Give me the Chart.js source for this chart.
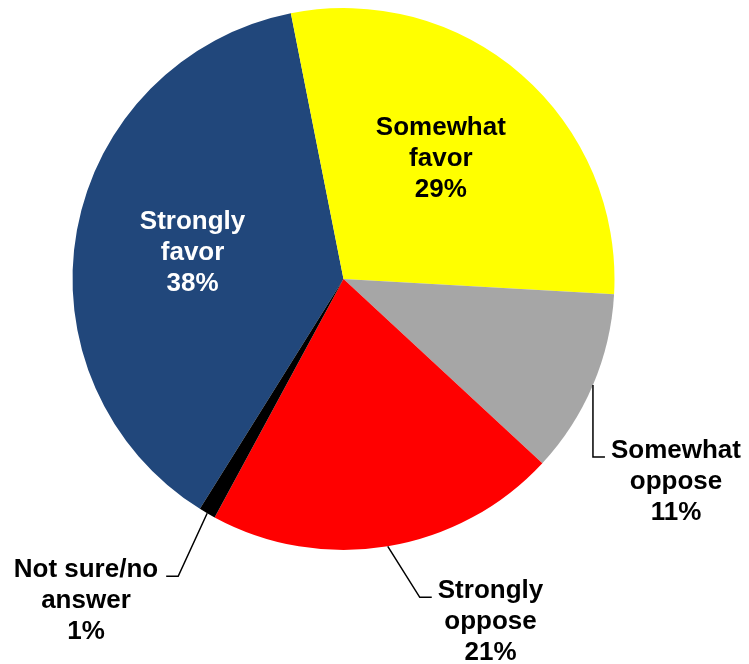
<!DOCTYPE html>
<html>
<head>
<meta charset="utf-8">
<script src="https://cdn.jsdelivr.net/npm/chart.js@4"></script>
<style>
  html, body { margin: 0; padding: 0; background: #ffffff; }
  #wrap { width: 749px; height: 664px; }
</style>
</head>
<body>
<div id="wrap"><canvas id="pie-chart" width="749" height="664"></canvas></div>
<script>
const categories = [
    ['Strongly', 'favor'],
    ['Somewhat', 'favor'],
    ['Somewhat', 'oppose'],
    ['Strongly', 'oppose'],
    ['Not sure/no', 'answer']
];
const shares = [38, 29, 11, 21, 1];
const sliceColors = ['#21477b', '#ffff00', '#a6a6a6', '#ff0000', '#000000'];

// how each label is placed: inside at a fraction of the radius, or outside with a leader line
const labelStyles = [
    { inside: true, r: 0.57, dx: 1, dy: 0, color: '#ffffff' },
    { inside: true, r: 0.57, dx: -4, dy: -6, color: '#000000' },
    { inside: false, elbow: [0, 72], tail: 12, side: 'right', lineDy: -8 },
    { inside: false, elbow: [32, 51], tail: 12, side: 'right', lineDy: -9 },
    { inside: false, elbow: [-29, 63], tail: -12, side: 'left', lineDy: -9 }
];

const FONT_SIZE = 26;
const LINE_H = 31;

const pieLabels = {
    id: 'pieLabels',
    afterDatasetsDraw(chart) {
        const ctx = chart.ctx;
        const arcs = chart.getDatasetMeta(0).data;
        ctx.save();
        ctx.font = 'bold ' + FONT_SIZE + 'px "Liberation Sans", Arial, sans-serif';
        ctx.textAlign = 'center';
        ctx.textBaseline = 'alphabetic';
        arcs.forEach((arc, i) => {
            const p = arc.getProps(['x', 'y', 'startAngle', 'endAngle', 'outerRadius'], true);
            const mid = (p.startAngle + p.endAngle) / 2;
            const lines = categories[i].concat([shares[i] + '%']);
            const st = labelStyles[i];
            const capShift = FONT_SIZE * 0.36;
            if (st.inside) {
                const cx = p.x + Math.cos(mid) * p.outerRadius * st.r + st.dx;
                const cy = p.y + Math.sin(mid) * p.outerRadius * st.r + st.dy;
                ctx.fillStyle = st.color;
                lines.forEach((t, k) => {
                    ctx.fillText(t, cx, cy + (k - 1) * LINE_H + capShift);
                });
            } else {
                const ax = p.x + Math.cos(mid) * p.outerRadius;
                const ay = p.y + Math.sin(mid) * p.outerRadius;
                const ex = ax + st.elbow[0];
                const ey = ay + st.elbow[1];
                const tx = ex + st.tail;
                ctx.strokeStyle = '#000000';
                ctx.lineWidth = 1.5;
                ctx.beginPath();
                ctx.moveTo(ax, ay);
                ctx.lineTo(ex, ey);
                ctx.lineTo(tx, ey);
                ctx.stroke();
                const maxW = Math.max(...lines.map(t => ctx.measureText(t).width));
                const cx = st.side === 'right' ? tx + 6 + maxW / 2 : tx - 8 - maxW / 2;
                ctx.fillStyle = '#000000';
                lines.forEach((t, k) => {
                    ctx.fillText(t, cx, ey + st.lineDy + k * LINE_H + capShift);
                });
            }
        });
        ctx.restore();
    }
};

new Chart(document.getElementById('pie-chart').getContext('2d'), {
    type: 'pie',
    data: {
        labels: categories.map(c => c.join(' ')),
        datasets: [{
            data: shares,
            backgroundColor: sliceColors,
            borderWidth: 0,
            hoverOffset: 0
        }]
    },
    options: {
        responsive: false,
        animation: false,
        rotation: 212,
        layout: { padding: { left: 72, right: 134, top: 8, bottom: 114 } },
        plugins: {
            legend: { display: false },
            tooltip: { enabled: false }
        }
    },
    plugins: [pieLabels]
});
</script>
</body>
</html>
